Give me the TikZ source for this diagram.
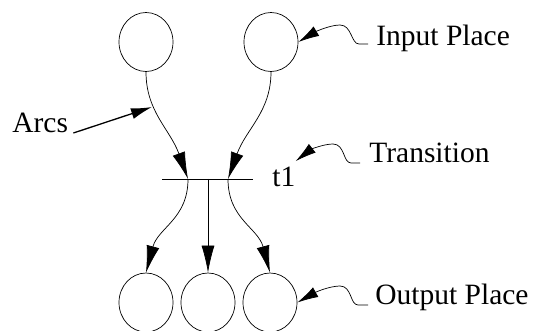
\documentclass[tikz,border=0pt]{standalone}
\usepackage{fontspec}
\setmainfont{Liberation Serif}
\usetikzlibrary{arrows.meta,shapes.geometric}
\begin{document}
\begin{tikzpicture}[x=1pt,y=-1pt,line width=0.7pt,
    place/.style={draw,ellipse,minimum width=54pt,minimum height=59pt,inner sep=0pt},
    lbl/.style={anchor=base west,inner sep=0pt,font=\fontsize{29.5}{34}\selectfont},
    arc/.style={-{Latex[length=27pt,width=13pt]}},
    ptr/.style={-{Latex[length=21pt,width=11pt]}}]
  \useasboundingbox (0,0) rectangle (533,331);
  \draw
    (146,42) node[place] (in1){}
    (271,42) node[place] (in2){}
    (146,302.5) node[place] (out1){}
    (208,302.5) node[place] (out2){}
    (270,302.5) node[place] (out3){};
  % transition bar
  \coordinate (barL) at (162,179);
  \coordinate (barR) at (253,179);
  \coordinate (ta) at (188,179);
  \coordinate (tb) at (208,179);
  \coordinate (tc) at (228,179);
  \draw (barL) -- (barR);
  \begin{scope}[arc]
    \draw (in1.south) .. controls +(0,40) and +(-18,-50) .. (ta);
    \draw (in2.south) .. controls +(0,40) and +(18,-50) .. (tc);
    \draw (ta) .. controls +(0,40) and +(12,-45) .. (out1.north);
    \draw (tb) -- (out2.north);
    \draw (tc) .. controls +(0,40) and +(-12,-45) .. (out3.north);
  \end{scope}
  % labels
  \node[lbl] (inLbl) at (376,46) {Input Place};
  \node[lbl] (arcLbl) at (12,133) {Arcs};
  \node[lbl] (trLbl) at (369,163) {Transition};
  \node[lbl] (outLbl) at (375,305) {Output Place};
  \node[lbl] (t1) at (272,187) {t1};
  \coordinate (arcPt) at (152,107);
  \begin{scope}[ptr]
    \draw[line width=1.3pt] ([xshift=5pt]arcLbl.base east) -- (arcPt);
    \draw ([xshift=-8pt,yshift=2pt]inLbl.base west) -- (359,44)
      .. controls (351,44) and (352,25) .. (340,25)
      .. controls (330,25) and (315,32) .. (in2.east);
    \draw ([xshift=-9pt]trLbl.base west) -- (351,163)
      .. controls (343,163) and (345,144) .. (333,144)
      .. controls (323,144) and (310,150) .. ([yshift=6pt]t1.north east);
    \draw ([xshift=-7pt]outLbl.base west) -- (358,305)
      .. controls (350,305) and (352,286) .. (340,286)
      .. controls (330,286) and (316,292) .. (out3.east);
  \end{scope}
\end{tikzpicture}
\end{document}
